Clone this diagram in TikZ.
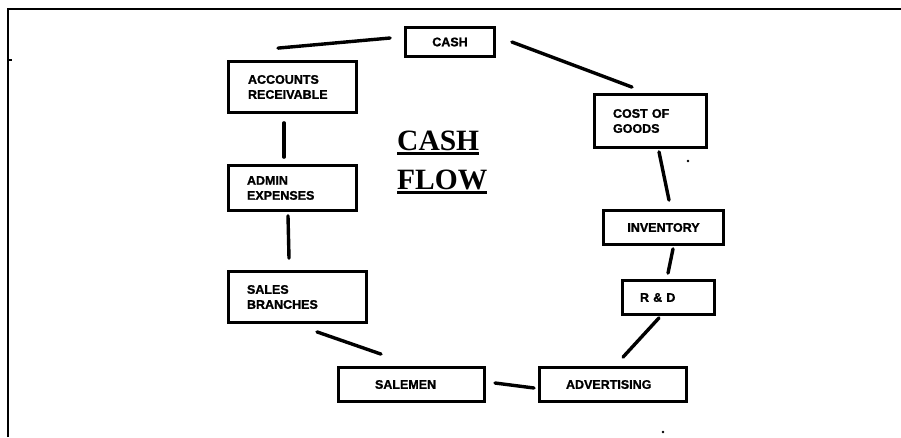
\documentclass[tikz,border=0pt]{standalone}
\usepackage{fontspec}
\setmainfont{Liberation Serif}
\setsansfont{Liberation Sans}
\newfontfamily\boxfont{Liberation Sans}[BoldFeatures={FakeBold=1.2}]
\usetikzlibrary{calc}
% underline drawn as a heavy rule under the word
\newcommand\titleul[1]{\setbox0=\hbox{#1}\rlap{\copy0}\rule[-4.8pt]{\wd0}{2.6pt}}
\begin{document}
\begin{tikzpicture}[x=1pt,y=-1pt,
  box/.style={draw, line width=2.8pt, rectangle, inner ysep=0pt,
    font=\boxfont\bfseries\fontsize{12.5}{15}\selectfont},
  % left-aligned box: text width, inner xsep, height
  lbox/.style n args={3}{box, align=left, text width=#1, inner xsep=#2, minimum height=#3},
  % centred box: width, height
  cbox/.style 2 args={box, align=center, minimum width=#1, minimum height=#2},
  link/.style={line width=3.4pt, line cap=round},
  frame/.style={line width=2.6pt},
  title/.style={font=\rmfamily\bfseries\fontsize{29.5}{35}\selectfont, inner sep=0pt, anchor=base west}]

\useasboundingbox (0,0) rectangle (901,437);

% outer frame (top and left edges)
\draw[frame] (8,437) -- (8,9) -- (901,9);
\draw[line width=1.5pt] (8,60) -- (12,60);

% boxes of the cycle
\node[cbox={89}{29}]        (cash) at (450,42)    {CASH};
\node[lbox={75}{18.6}{53}]  (cog)  at (650.5,121) {COST OF\\GOODS};
\node[cbox={120}{34}]       (inv)  at (663.5,227.5) {INVENTORY};
\node[lbox={57}{17.6}{34}]  (rd)   at (668.5,297.5) {R \& D};
\node[lbox={94}{26.6}{34}]  (adv)  at (613,384.5) {ADVERTISING};
\node[lbox={73}{36.6}{34}]  (sal)  at (411.5,384.5) {SALEMEN};
\node[lbox={101}{18.6}{51}] (sb)   at (297.5,297) {SALES\\BRANCHES};
\node[lbox={91}{18.6}{45}]  (adm)  at (292.5,188) {ADMIN\\EXPENSES};
\node[lbox={89}{19.6}{51}]  (ar)   at (292.5,87)  {ACCOUNTS\\RECEIVABLE};

% title
\node[title] (t1) at (397,150) {\titleul{CASH}};
\node[title] (t2) at (397,189) {\titleul{FLOW}};

% connectors, each standing free of the boxes it joins
\draw[link] ($(cash.west)+(-14,-4)$) -- ($(ar.north)+(-14.5,-12)$);
\draw[link] ($(cash.east)+(16,0)$) -- ($(cog.north)+(-18.5,-6)$);
\draw[link] ($(cog.south)+(8.5,3)$) -- ($(inv.north)+(5.5,-9)$);
\draw[link] ($(inv.south)+(9.5,3)$) -- ($(rd.north)+(-0.5,-6)$);
\draw[link] ($(rd.south)+(-9.5,2)$) -- ($(adv.north)+(10,-9)$);
\draw[link] ($(adv.west)+(-4,3.5)$) -- ($(sal.east)+(9,-1.5)$);
\draw[link] ($(sal.north)+(-30.5,-12)$) -- ($(sb.south)+(19.5,8)$);
\draw[link] ($(sb.north)+(-8.5,-12)$) -- ($(adm.south)+(-4.5,4)$);
\draw[link] ($(adm.north)+(-8.5,-7)$) -- ($(ar.south)+(-8.5,9)$);

% stray specks
\fill (688,161) circle (1.3);
\fill (663,432) circle (1.3);
\end{tikzpicture}
\end{document}
